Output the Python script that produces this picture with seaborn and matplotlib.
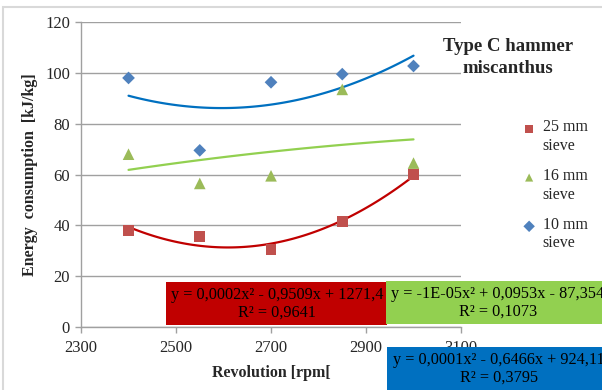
import matplotlib

matplotlib.use("Agg")
import matplotlib.pyplot as plt
import pandas as pd
import seaborn as sns
from matplotlib.patches import Rectangle

# values
revolution = [2400, 2550, 2700, 2850, 3000]
sieve_25 = [38.0, 35.5, 30.5, 41.5, 60.0]
sieve_16 = [68.0, 56.5, 59.5, 93.5, 64.5]
sieve_10 = [98.0, 69.5, 96.3, 99.5, 102.7]

series_names = ["25 mm\nsieve", "16 mm\nsieve", "10 mm\nsieve"]
equations = [
    "y = 0,0002x² - 0,9509x + 1271,4\nR² = 0,9641",
    "y = -1E-05x² + 0,0953x - 87,354\nR² = 0,1073",
    "y = 0,0001x² - 0,6466x + 924,11\nR² = 0,3795",
]
x_ticks = [2300, 2500, 2700, 2900, 3100]
y_ticks = [0, 20, 40, 60, 80, 100, 120]

MARKER_COLORS = ["#C0504D", "#9BBB59", "#4F81BD"]
LINE_COLORS = ["#C00000", "#92D050", "#0070C0"]
MARKERS = ["s", "^", "D"]
MARKER_SIZES = [60, 70, 42]
GRID = "#A0A0A0"


def build_frame() -> pd.DataFrame:
    parts = []
    for name, values in zip(series_names, [sieve_25, sieve_16, sieve_10]):
        parts.append(pd.DataFrame({"revolution": revolution, "energy": values, "sieve": name}))
    return pd.concat(parts, ignore_index=True)


def main() -> None:
    sns.set_style("white")
    plt.rcParams["font.family"] = ["Liberation Serif", "DejaVu Serif"]
    plt.rcParams["font.size"] = 11.5

    df = build_frame()
    fig = plt.figure(figsize=(6.02, 3.9), dpi=100)
    ax = fig.add_axes([0.1346, 0.1615, 0.6312, 0.782])

    for idx, name in enumerate(series_names):
        sub = df[df["sieve"] == name]
        sns.regplot(
            data=sub, x="revolution", y="energy", order=2, ci=None, scatter=False,
            line_kws={"color": LINE_COLORS[idx], "linewidth": 1.6, "zorder": 2}, ax=ax,
        )
        sns.scatterplot(
            data=sub, x="revolution", y="energy", marker=MARKERS[idx], s=MARKER_SIZES[idx],
            color=MARKER_COLORS[idx], edgecolor="none", label=name, zorder=3, ax=ax,
        )

    ax.set_xlim(2300, 3100)
    ax.set_ylim(0, 120)
    ax.set_xticks(x_ticks)
    ax.set_yticks(y_ticks)
    ax.grid(axis="y", color=GRID, linewidth=1.0)
    ax.set_axisbelow(True)
    for side in ["top", "right"]:
        ax.spines[side].set_visible(False)
    for side in ["left", "bottom"]:
        ax.spines[side].set_color(GRID)
        ax.spines[side].set_linewidth(1.0)
    ax.tick_params(axis="both", length=4, width=1.0, color=GRID, direction="out", labelsize=12)
    ax.tick_params(axis="x", pad=5, bottom=True)
    ax.tick_params(axis="y", pad=4, left=True)

    ax.set_xlabel("Revolution [rpm[", fontweight="bold", fontsize=11.5, labelpad=7)
    ax.set_ylabel("Energy  consumption  [kJ/kg]", fontweight="bold", fontsize=11.5, labelpad=5)

    leg = ax.legend(
        loc="upper left", bbox_to_anchor=(0.871, 0.694), bbox_transform=fig.transFigure,
        frameon=False, fontsize=11.5, handlelength=0.6, handletextpad=0.55,
        labelspacing=0.9, borderpad=0, borderaxespad=0,
    )
    for handle in leg.legend_handles:
        handle.set_sizes([34])
        handle.set_offsets(handle.get_offsets() + [0, 6.9])

    fig.text(0.844, 0.852, "Type C hammer\nmiscanthus", ha="center", va="center",
             fontsize=13.5, fontweight="bold", linespacing=1.4)

    # trendline equation boxes
    boxes = [
        (0.2757, 0.1667, 0.3672, 0.1102, 0.460, 0.222),
        (0.6412, 0.1692, 0.3700, 0.1103, 0.827, 0.2244),
        (0.6429, 0.0, 0.3700, 0.1103, 0.829, 0.055),
    ]
    for idx, (x0, y0, w, h, tx, ty) in enumerate(boxes):
        fig.patches.append(Rectangle((x0, y0), w, h, transform=fig.transFigure,
                                     facecolor=LINE_COLORS[idx], edgecolor="none", zorder=5))
        fig.text(tx, ty, equations[idx], ha="center", va="center", fontsize=11.7,
                 color="black", linespacing=1.15, zorder=6)

    fig.patches.append(Rectangle((0.005, -0.1), 1.1, 1.082, transform=fig.transFigure,
                                 facecolor="none", edgecolor="#D9D9D9", linewidth=1.5, zorder=0))

    fig.savefig("out.png", dpi=100)
    plt.close(fig)


if __name__ == "__main__":
    main()
